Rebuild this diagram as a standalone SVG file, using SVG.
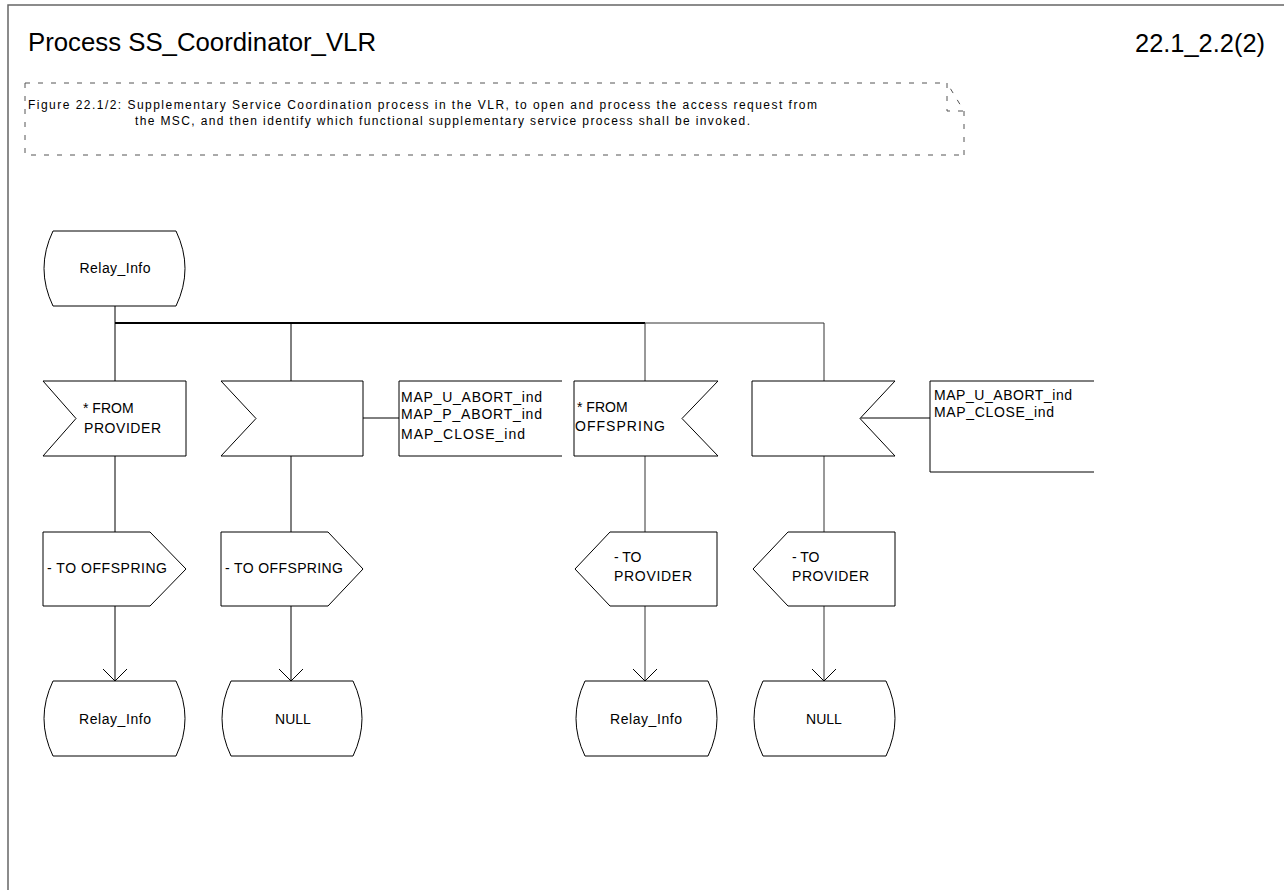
<svg xmlns="http://www.w3.org/2000/svg" width="1284" height="890" viewBox="0 0 1284 890">
<style>
text{font-family:"Liberation Sans",Arial,sans-serif;fill:#000}
.t{font-size:14px}
.c{font-size:12px}
.s{fill:#fff;stroke:#000;stroke-width:1}
.ln{fill:none;stroke:#000;stroke-width:1}
.g{fill:none;stroke:#333;stroke-width:1}
.d{fill:none;stroke:#555;stroke-width:1;stroke-dasharray:5,8}
</style>
<defs>
<marker id="ah" markerWidth="26" markerHeight="14" refX="13" refY="13" markerUnits="userSpaceOnUse" viewBox="0 0 26 14">
<path d="M1,1 L13,13 L25,1" fill="none" stroke="#000" stroke-width="1"/>
</marker>
</defs>
<rect width="1284" height="890" fill="#fff"/>
<path d="M8,890 L8,5 L1284,5" fill="none" stroke="#666" stroke-width="1.5"/>
<text x="28" y="51" font-size="25" textLength="348" lengthAdjust="spacingAndGlyphs">Process SS_Coordinator_VLR</text>
<text x="1135" y="52" font-size="25" textLength="130" lengthAdjust="spacingAndGlyphs">22.1_2.2(2)</text>
<g id="comment">
<path class="d" d="M25,83 L947,83"/>
<path class="d" d="M25,83 L25,155 L964,155"/>
<path class="d" d="M964,155 L964,111 L947,83"/>
<path class="d" d="M947,83 L947,111 L964,111"/>
<text class="c" x="28" y="109" textLength="789" lengthAdjust="spacing">Figure 22.1/2: Supplementary Service Coordination process in the VLR, to open and process the access request from</text>
<text class="c" x="135" y="125" textLength="615" lengthAdjust="spacing">the MSC, and then identify which functional supplementary service process shall be invoked.</text>
</g>
<g id="connectors">
<path class="ln" d="M115,306 L115,323"/>
<path d="M115,323 L645,323" fill="none" stroke="#000" stroke-width="2"/>
<path class="g" d="M645,323 L824,323"/>
<path class="ln" d="M115,323 L115,381"/>
<path class="ln" d="M291,323 L291,381"/>
<path class="g" d="M645,323 L645,381"/>
<path class="g" d="M824,323 L824,381"/>
<path class="ln" d="M115,456 L115,532"/>
<path class="ln" d="M291,456 L291,532"/>
<path class="g" d="M645,456 L645,532"/>
<path class="g" d="M824,456 L824,532"/>
<path class="ln" d="M115,606 L115,681" marker-end="url(#ah)"/>
<path class="ln" d="M291,606 L291,681" marker-end="url(#ah)"/>
<path class="g" d="M645,606 L645,681" marker-end="url(#ah)"/>
<path class="g" d="M824,606 L824,681" marker-end="url(#ah)"/>
<path class="ln" d="M363,418 L399,418"/>
<path class="ln" d="M860,418 L930,418"/>
</g>
<g id="start">
<path class="s" d="M53,231 L176,231 Q194,268.5 176,306 L53,306 Q35,268.5 53,231 Z"/>
<text class="t" x="115" y="273" text-anchor="middle" textLength="71" lengthAdjust="spacing">Relay_Info</text>
</g>
<g id="in1">
<path class="s" d="M43,381 L186,381 L186,456 L43,456 L76,418.5 Z"/>
<text class="t" x="83" y="413">* FROM</text>
<text class="t" x="84" y="433" textLength="77" lengthAdjust="spacing">PROVIDER</text>
</g>
<g id="in2">
<path class="s" d="M221,381 L363,381 L363,456 L221,456 L256,418.5 Z"/>
</g>
<g id="note1">
<path class="ln" d="M562,381 L399,381 L399,456 L562,456"/>
<text class="t" x="401" y="402" textLength="141" lengthAdjust="spacing">MAP_U_ABORT_ind</text>
<text class="t" x="401" y="419" textLength="141" lengthAdjust="spacing">MAP_P_ABORT_ind</text>
<text class="t" x="401" y="439" textLength="124" lengthAdjust="spacing">MAP_CLOSE_ind</text>
</g>
<g id="in3">
<path class="s" d="M574,381 L718,381 L682,418.5 L718,456 L574,456 Z"/>
<text class="t" x="577" y="412">* FROM</text>
<text class="t" x="575" y="431" textLength="90" lengthAdjust="spacing">OFFSPRING</text>
</g>
<g id="in4">
<path class="s" d="M752,381 L895,381 L860,418.5 L895,456 L752,456 Z"/>
</g>
<g id="note2">
<path class="ln" d="M1094,381 L930,381 L930,472 L1094,472"/>
<text class="t" x="934" y="400" textLength="138" lengthAdjust="spacing">MAP_U_ABORT_ind</text>
<text class="t" x="934" y="417" textLength="120" lengthAdjust="spacing">MAP_CLOSE_ind</text>
</g>
<g id="out1">
<path class="s" d="M43,532 L150,532 L186,569 L150,606 L43,606 Z"/>
<text class="t" x="47" y="573" textLength="120" lengthAdjust="spacing">- TO OFFSPRING</text>
</g>
<g id="out2">
<path class="s" d="M221,532 L328,532 L363,569 L328,606 L221,606 Z"/>
<text class="t" x="225" y="573" textLength="118" lengthAdjust="spacing">- TO OFFSPRING</text>
</g>
<g id="out3">
<path class="s" d="M610,532 L717,532 L717,606 L610,606 L575,569 Z"/>
<text class="t" x="614" y="562">- TO</text>
<text class="t" x="614" y="581" textLength="78" lengthAdjust="spacing">PROVIDER</text>
</g>
<g id="out4">
<path class="s" d="M788,532 L895,532 L895,606 L788,606 L753,569 Z"/>
<text class="t" x="792" y="562">- TO</text>
<text class="t" x="792" y="581" textLength="77" lengthAdjust="spacing">PROVIDER</text>
</g>
<g id="end1">
<path class="s" d="M53,681 L176,681 Q194,718.5 176,756 L53,756 Q35,718.5 53,681 Z"/>
<text class="t" x="115" y="724" text-anchor="middle" textLength="72" lengthAdjust="spacing">Relay_Info</text>
</g>
<g id="end2">
<path class="s" d="M231,681 L353,681 Q371,718.5 353,756 L231,756 Q213,718.5 231,681 Z"/>
<text class="t" x="293" y="724" text-anchor="middle">NULL</text>
</g>
<g id="end3">
<path class="s" d="M585,681 L708,681 Q726,718.5 708,756 L585,756 Q567,718.5 585,681 Z"/>
<text class="t" x="646" y="724" text-anchor="middle" textLength="72" lengthAdjust="spacing">Relay_Info</text>
</g>
<g id="end4">
<path class="s" d="M763,681 L886,681 Q904,718.5 886,756 L763,756 Q745,718.5 763,681 Z"/>
<text class="t" x="824" y="724" text-anchor="middle">NULL</text>
</g>
</svg>
